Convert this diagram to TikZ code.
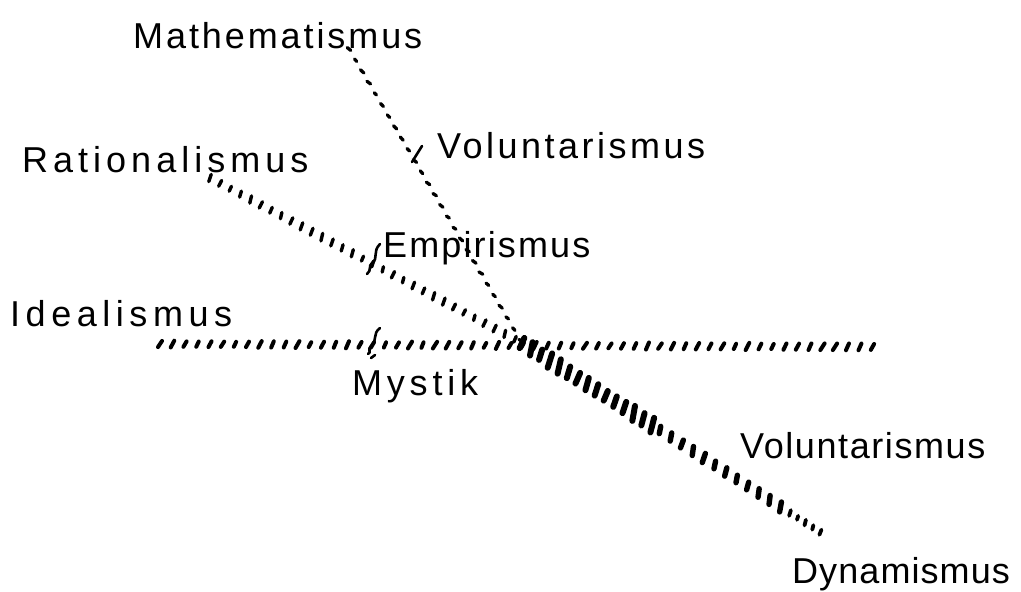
\documentclass[tikz,border=0pt]{standalone}
\usepackage{fontspec}
\newfontfamily\hand{Liberation Sans}
\usetikzlibrary{decorations.markings}
\tikzset{
  lbl/.style={anchor=base west, inner sep=0pt, font={\hand\fontsize{36}{42}\selectfont\addfontfeatures{LetterSpace=#1}}},
  hatchline/.style n args={5}{decoration={markings, mark=between positions 0 and 1 step #1 with {\pgftransformresetnontranslations\pgfmathsetmacro\hkA{#2+#5*rand}\pgfmathsetmacro\hkL{#3*(1+0.2*rand)}\draw[line width=#4, line cap=round] (\hkA:\hkL pt) -- (\hkA+180:\hkL pt);}}, decorate},
  squig/.style={line width=2.6pt, line cap=round}
}
\begin{document}
\begin{tikzpicture}[x=1pt, y=-1pt]
\pgfmathsetseed{3}
\fill[white] (0,0) rectangle (1021,592);
\useasboundingbox (0,0) rectangle (1021,592);
% labels
\node[lbl=8.1] (math) at (133,48) {Mathematismus};
\node[lbl=9.7] (volA) at (437,158) {Voluntarismus};
\node[lbl=13.9] (rat) at (22,172) {Rationalismus};
\node[lbl=5.9] (emp) at (383,257) {Empirismus};
\node[lbl=15.4] (ideal) at (10,326) {Idealismus};
\node[lbl=13.3] (myst) at (352,395) {Mystik};
\node[lbl=4.4] (volB) at (740,458) {Voluntarismus};
\node[lbl=3] (dyn) at (792,583) {Dynamismus};
% line end points
\coordinate (C) at (522,343);
\coordinate (mS) at (349,49);
\coordinate (rS) at (210,178);
\coordinate (r1) at (660,430);
\coordinate (r2) at (790,513);
\coordinate (rE) at (828,537);
\coordinate (iS) at (160,344);
\coordinate (iE) at (884,347);
% hatched lines
\path[hatchline={12.5pt}{62}{3.4}{4pt}{6}] (iS) -- (iE);
\path[hatchline={11.5pt}{70}{3.3}{3.4pt}{8}] (rS) -- (C);
\path[hatchline={11pt}{72}{6.5}{6pt}{8}] (C) -- (r1);
\path[hatchline={13pt}{75}{4.2}{5.4pt}{8}] (r1) -- (r2);
\path[hatchline={9pt}{75}{2.5}{3.8pt}{8}] (r2) -- (rE);
\path[hatchline={13pt}{-38}{2}{3.3pt}{10}] (mS) -- (C);
% marks
\draw[squig] (412,162) -- (422,146);
\draw[squig] (380,244) .. controls (372,252) and (379,258) .. (372,263) .. controls (368,266) and (372,270) .. (367,274);
\draw[squig] (380,328) .. controls (372,334) and (378,340) .. (371,346) .. controls (367,349) and (372,352) .. (368,354);
\draw[squig] (371,358) -- (375,355);
\end{tikzpicture}
\end{document}
